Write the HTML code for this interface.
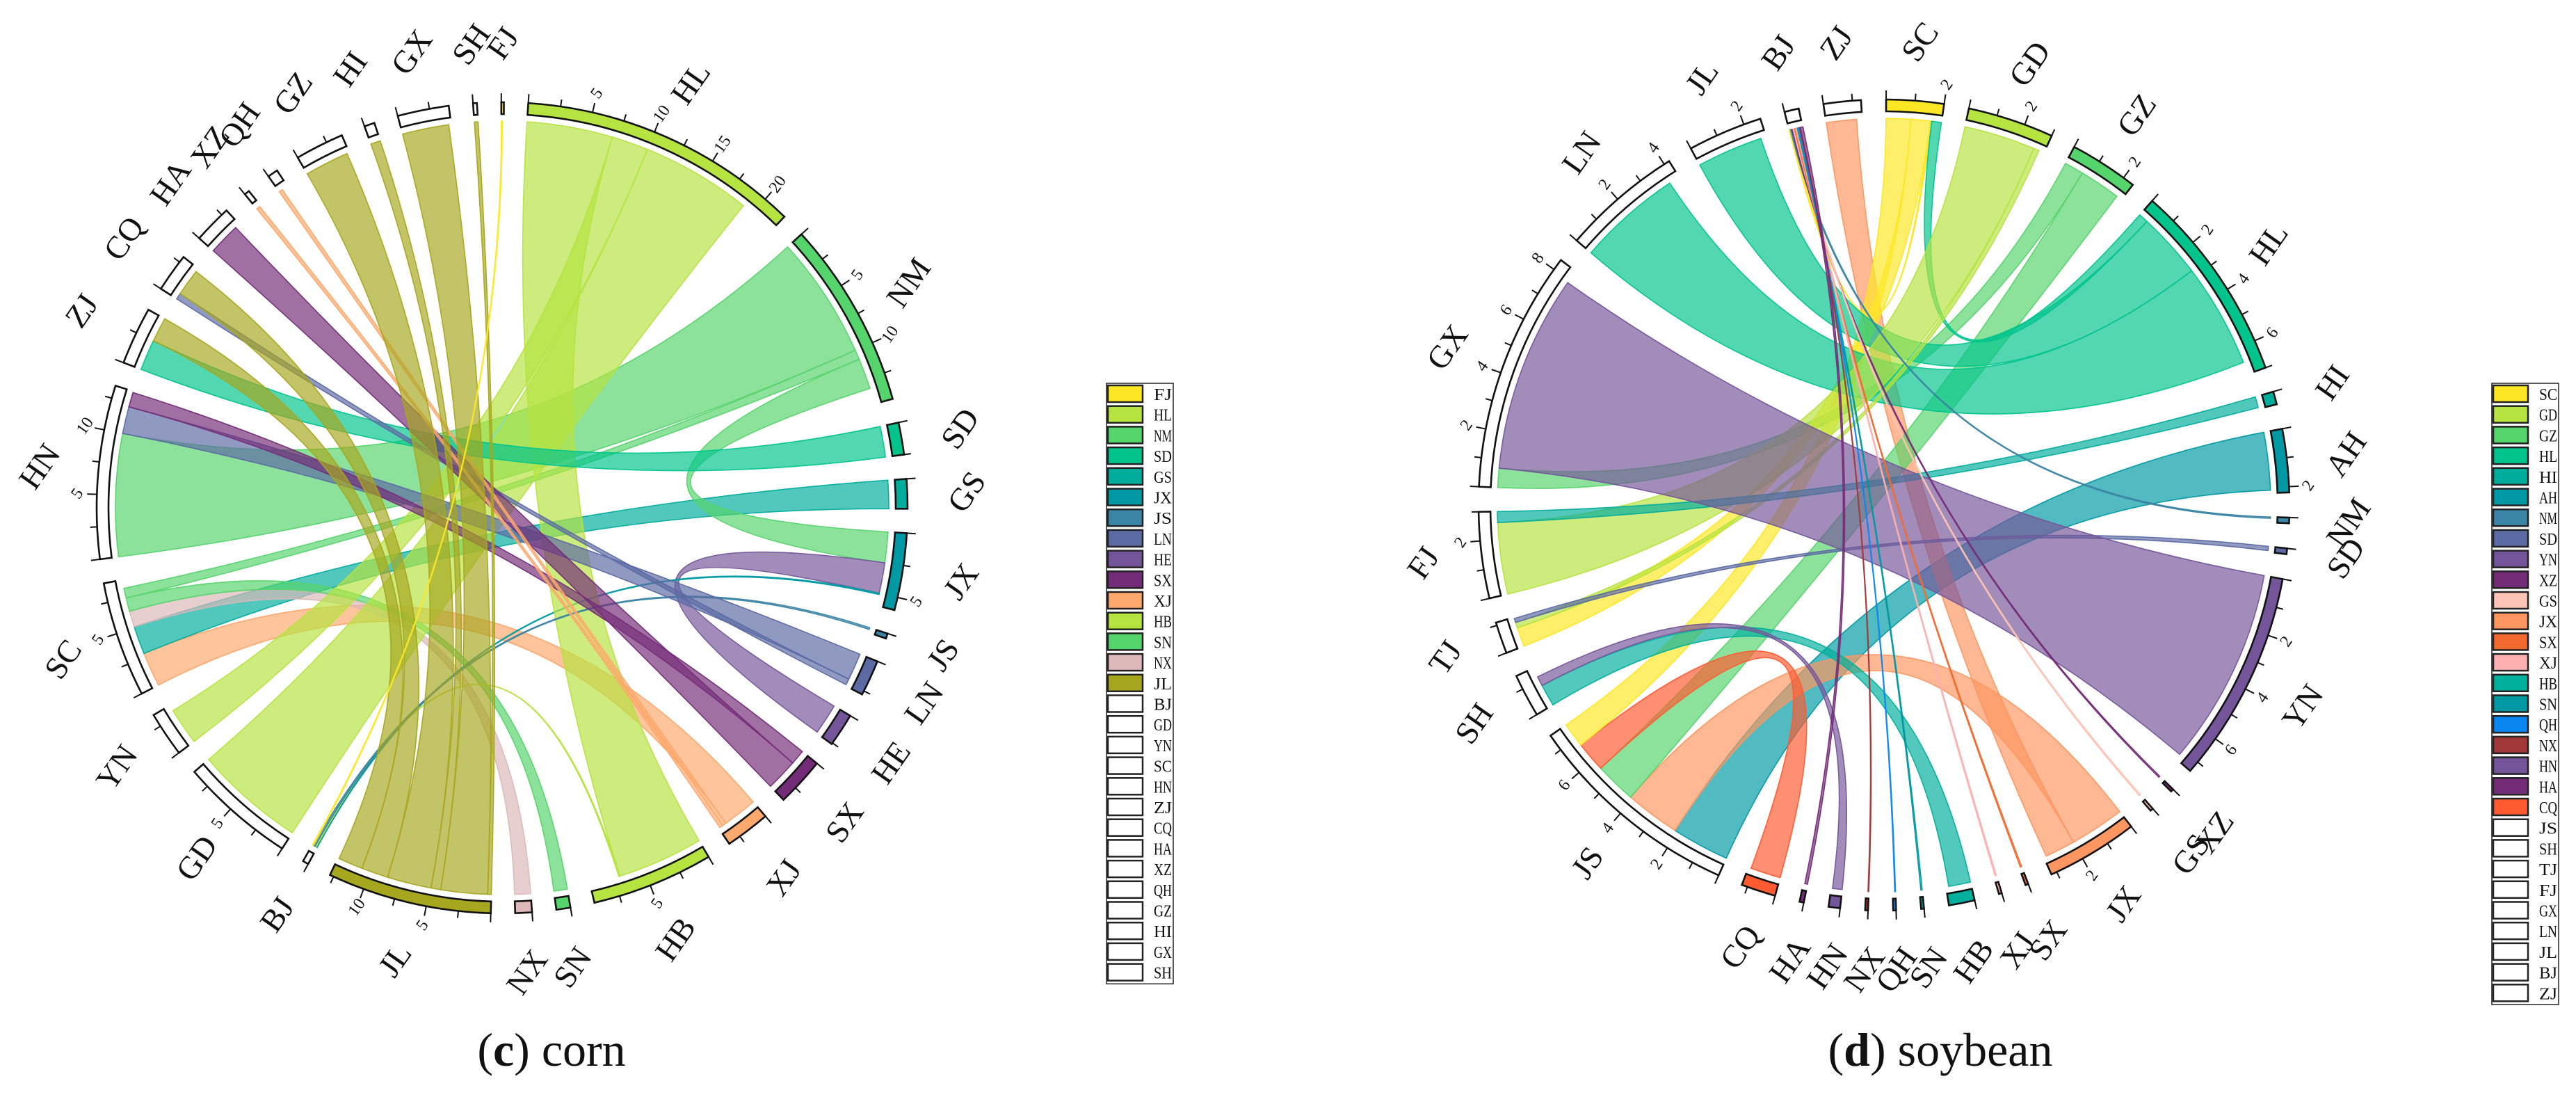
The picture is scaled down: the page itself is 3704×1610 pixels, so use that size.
<!DOCTYPE html>
<html><head><meta charset="utf-8"><style>
html,body{margin:0;padding:0;background:#fff;}
svg{display:block;}
text{font-family:"Liberation Serif",serif;fill:#111;}
</style></head><body>
<svg id="fig" width="3704" height="1610" viewBox="0 0 3704 1610" xmlns="http://www.w3.org/2000/svg">
<g id="cornChart"></g>
<g id="soyChart"></g>
<g id="cornLegend"></g>
<g id="soyLegend"></g>
<text x="793" y="1532" font-size="68" text-anchor="middle">(<tspan font-weight="bold">c</tspan>) corn</text>
<text x="2790" y="1532" font-size="68" text-anchor="middle">(<tspan font-weight="bold">d</tspan>) soybean</text>
</svg>
<script>
// ---------- corn data ----------
const cornSectors = ["HL","NM","SD","GS","JX","JS","LN","HE","SX","XJ","HB","SN","NX","JL","BJ","GD","YN","SC","HN","ZJ","CQ","HA","XZ","QH","GZ","HI","GX","SH","FJ"];
const cornValues  = [22,14.6,2.5,2.3,6,0.4,2.8,2.6,3.8,3.5,9.5,1.1,1.3,12.8,0.45,9,3.5,9,13.5,4.5,3,3,0.4,0.8,3.8,0.8,4,0.3,0.2];
const cornColors  = {FJ:"#fde725",HL:"#b5e33f",NM:"#55d46c",SD:"#00c48c",GS:"#00ad9c",JX:"#0099a3",JS:"#3a84a5",LN:"#5b6aa3",HE:"#74559a",SX:"#742c78",XJ:"#fda86c",HB:"#b5e33f",SN:"#55d46c",NX:"#dcb8b8",JL:"#a6a61f"};
const cornFrom  = ["NM","XJ","GS","NX","SN","NM","NM","HE","JX","HL","HB","HL","HL","SD","JS","LN","LN","SX","SX","XJ","XJ","JL","JL","JL","JL","JL","JL","FJ"];
const cornTo    = ["HN","SC","SC","SC","SC","SC","JX","JX","BJ","HB","BJ","YN","GD","ZJ","BJ","HN","CQ","HN","HA","QH","XZ","SH","GX","HI","GZ","CQ","ZJ","BJ"];
const cornFlow  = [10,2.8,2.3,1.3,1.1,0.8,2.5,2.5,0.1,7,0.1,3,9,2.5,0.15,2.2,0.5,1.2,2.6,0.3,0.3,0.3,3.8,0.8,3.6,2.2,2.0,0.08];
const cornTickStep = [2.5, 5];

// ---------- soybean data ----------
const soySectors = ["SC","GD","GZ","HL","HI","AH","NM","SD","YN","XZ","GS","JX","SX","XJ","HB","SN","QH","NX","HN","HA","CQ","JS","SH","TJ","FJ","GX","LN","JL","BJ","ZJ"];
const soyValues  = [2,3,2.4,7,0.45,2.2,0.2,0.2,7.4,0.1,0.1,3.2,0.1,0.1,0.9,0.1,0.1,0.1,0.4,0.15,1.2,7.6,1.5,1.1,3,8.4,4.2,2.6,0.5,1.3];
const soyColors  = {SC:"#fde725",GD:"#b5e33f",GZ:"#55d46c",HL:"#00c48c",HI:"#00ad9c",AH:"#0099a3",NM:"#3a84a5",SD:"#5b6aa3",YN:"#74559a",XZ:"#742c78",GS:"#fcc4b4",JX:"#fd9660",SX:"#f26a30",XJ:"#fcb0b0",HB:"#00b09c",SN:"#0099a3",QH:"#0a86f0",NX:"#a03838",HN:"#74559a",HA:"#742c78",CQ:"#ff5a30"};
const soyFrom = ["AH","JX","JX","GZ","GZ","CQ","SC","SC","SC","HL","HL","HL","GD","GD","HI","SD","YN","HB","HN","NM","XZ","GS","SX","XJ","SN","QH","NX","HA"];
const soyTo   = ["JS","JS","ZJ","GX","JS","JS","JS","TJ","BJ","SC","JL","LN","FJ","TJ","FJ","TJ","GX","SH","SH","BJ","BJ","BJ","BJ","BJ","BJ","BJ","BJ","BJ"];
const soyFlow = [2.1,2.0,1.1,0.7,1.5,1.1,0.9,0.7,0.05,0.35,2.4,3.8,2.6,0.2,0.4,0.15,7.2,0.8,0.35,0.05,0.05,0.05,0.05,0.05,0.05,0.03,0.03,0.1];
const soyTickStep = [1, 2];

const NS="http://www.w3.org/2000/svg", D=Math.PI/180;
function mk(tag, attrs, parent){const e=document.createElementNS(NS,tag);for(const k in attrs)e.setAttribute(k,attrs[k]);parent.appendChild(e);return e;}
function P(cx,cy,r,a){return [cx+r*Math.sin(a*D), cy-r*Math.cos(a*D)];}

function drawChord(g, sectors, values, colors, from, to, flow, cx, cy, start, gap, tickStep){
  const RC=556, RI=566, RO=583;
  const n=sectors.length, sum=values.reduce((a,b)=>a+b,0);
  const k=(360-n*gap)/sum;
  const st={}, cur={};
  let a=start;
  sectors.forEach((s,i)=>{st[s]=[a,a+values[i]*k];cur[s]=a;a+=values[i]*k+gap;});
  const chordG=mk("g",{},g);
  
  
  for(let i=0;i<from.length;i++){
    const s=from[i], t=to[i], w=flow[i]*k;
    const a1=cur[s], a2=a1+w; cur[s]=a2;
    const b1=cur[t], b2=b1+w; cur[t]=b2;
    const p1=P(cx,cy,RC,a1),p2=P(cx,cy,RC,a2),q1=P(cx,cy,RC,b1),q2=P(cx,cy,RC,b2);
    const d=`M${p1} A${RC} ${RC} 0 0 1 ${p2} Q${cx} ${cy} ${q1} A${RC} ${RC} 0 0 1 ${q2} Q${cx} ${cy} ${p1}Z`;
    const c=colors[s];
    const el=mk("path",{d:d,fill:c,"fill-opacity":0.68,stroke:c,"stroke-width":1.6,"stroke-opacity":0.95},chordG);
    
    
  }
  sectors.forEach((s,i)=>{
    const [a1,a2]=st[s];
    const o1=P(cx,cy,RO,a1),o2=P(cx,cy,RO,a2),i1=P(cx,cy,RI,a1),i2=P(cx,cy,RI,a2);
    const sg=mk("g",{},g);
    
    
    const big=(a2-a1)>180?1:0;
    mk("path",{d:`M${o1} A${RO} ${RO} 0 ${big} 1 ${o2} L${i2} A${RI} ${RI} 0 ${big} 0 ${i1}Z`,fill:colors[s]||"#fff",stroke:"#111","stroke-width":2.6},sg);
    // ticks
    mk("path",{d:`M${P(cx,cy,RO,a1)} L${P(cx,cy,RO+13,a1)}`,stroke:"#111","stroke-width":2},sg);
    for(let v=tickStep[0]; v<=values[i]+1e-9; v+=tickStep[0]){
      const ang=a1+v*k, major=Math.abs(v/tickStep[1]-Math.round(v/tickStep[1]))<1e-6;
      mk("path",{d:`M${P(cx,cy,RO,ang)} L${P(cx,cy,RO+(major?14:10),ang)}`,stroke:"#111","stroke-width":2},sg);
      if(major){
        const lp=P(cx,cy,RO+28,ang);
        const t=mk("text",{x:lp[0],y:lp[1],"font-size":24,"text-anchor":"middle","dominant-baseline":"central",transform:`rotate(-55 ${lp[0]} ${lp[1]})`},sg);
        t.textContent=String(Math.round(v));
        
        
      }
    }
    const np=P(cx,cy,668,(a1+a2)/2);
    const nt=mk("text",{x:np[0],y:np[1],"font-size":46,"text-anchor":"middle","dominant-baseline":"central",transform:`rotate(-55 ${np[0]} ${np[1]})`},sg);
    nt.textContent=s;
    
    
  });
}

function drawLegend(g, order, colors, x, y, rows){
  const rh=29.7;
  mk("rect",{x:x,y:y,width:96,height:rows*rh+2,fill:"#fff",stroke:"#222","stroke-width":1.5},g);
  order.forEach((s,i)=>{
    const e=mk("g",{},g);
    
    
    mk("rect",{x:x+2,y:y+3+i*rh,width:50,height:24,fill:colors[s]||"#fff",stroke:"#222","stroke-width":2.5},e);
    const t=mk("text",{x:x+68,y:y+24+i*rh,"font-size":24,textLength:26,lengthAdjust:"spacingAndGlyphs"},e);
    t.textContent=s;
  });
}

drawChord(document.getElementById('cornChart'), cornSectors, cornValues, cornColors, cornFrom, cornTo, cornFlow, 722, 730, 3.7, 3.45, cornTickStep);
drawChord(document.getElementById('soyChart'), soySectors, soyValues, soyColors, soyFrom, soyTo, soyFlow, 2709, 726, 0.3, 3.55, soyTickStep);
drawLegend(document.getElementById('cornLegend'), ["FJ","HL","NM","SD","GS","JX","JS","LN","HE","SX","XJ","HB","SN","NX","JL","BJ","GD","YN","SC","HN","ZJ","CQ","HA","XZ","QH","GZ","HI","GX","SH"], cornColors, 1591, 551, 29);
drawLegend(document.getElementById('soyLegend'), ["SC","GD","GZ","HL","HI","AH","NM","SD","YN","XZ","GS","JX","SX","XJ","HB","SN","QH","NX","HN","HA","CQ","JS","SH","TJ","FJ","GX","LN","JL","BJ","ZJ"], soyColors, 3583, 551, 30);
</script>
</body></html>
